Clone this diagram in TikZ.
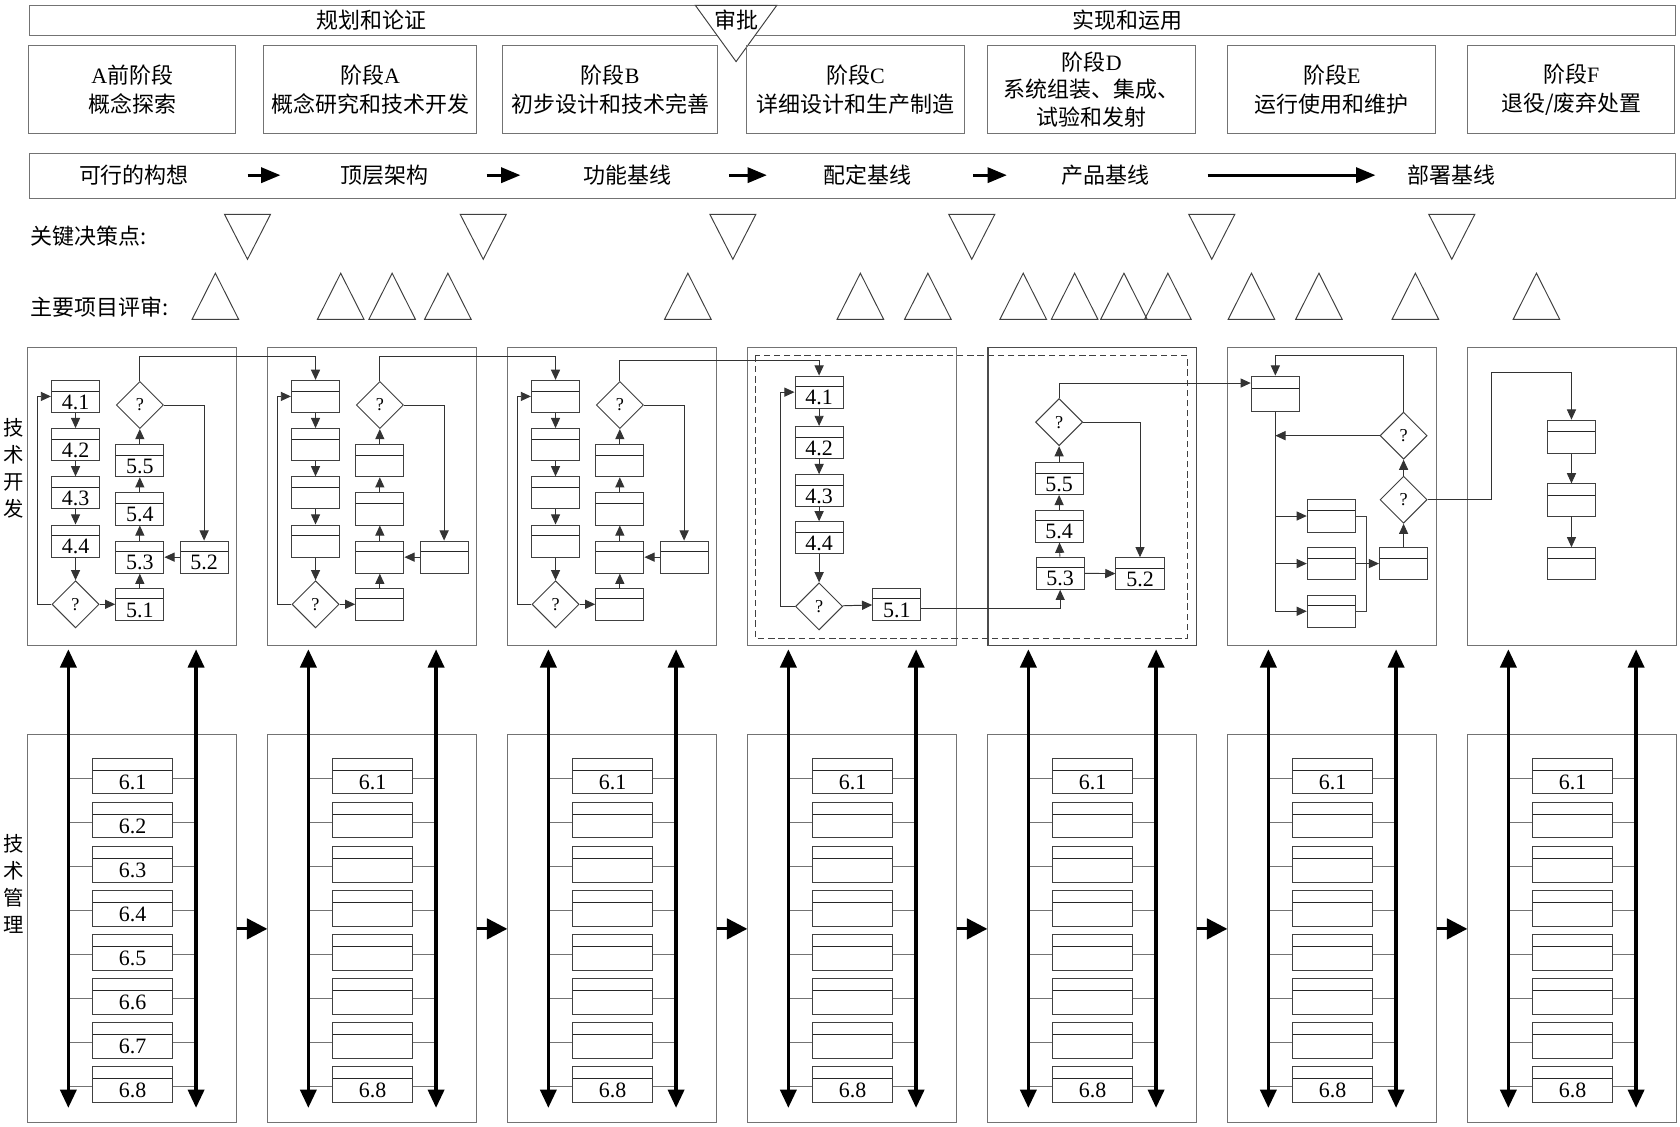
\documentclass[tikz,border=0pt]{standalone}
\usepackage{fontspec}
\setmainfont{Liberation Serif}
\newfontfamily\cjk{Noto Sans CJK SC}
\usepackage{tikz}
\usetikzlibrary{positioning, arrows.meta, calc, shapes.geometric}

\begin{document}
\begin{tikzpicture}[
  x=1pt, y=-1pt,
  >={Triangle[length=9.5pt, width=8.5pt]},
  every node/.style={font=\fontsize{20.5}{24}\selectfont},
  zh/.style={font=\cjk\fontsize{20.5}{27}\selectfont, align=center},
  frame/.style={draw=black!55, line width=0.9pt, inner sep=0pt},
  pbox/.style={draw=black!75, line width=0.9pt, fill=white, inner sep=0pt,
               minimum width=45pt, minimum height=30pt, text height=23.8pt, text depth=0pt,
               path picture={\draw[black!85, line width=0.9pt]
                 ([yshift=-#1]path picture bounding box.north west) --
                 ([yshift=-#1]path picture bounding box.north east);}},
  pbox/.default=10pt,
  mbox/.style={pbox=11pt, minimum width=75pt, minimum height=33pt, text height=24.8pt},
  qbox/.style={diamond, draw=black!75, line width=0.9pt, fill=white, inner sep=0pt,
               minimum width=44pt, minimum height=44pt, font=\fontsize{17}{20}\selectfont},
  arr/.style={->, line width=0.9pt, black!80},
  link/.style={line width=0.9pt, black!55},
  bigarr/.style={-{Triangle[length=18pt, width=14pt]}, line width=3pt},
  steparr/.style={-{Triangle[length=19pt, width=19pt]}, line width=3pt},
  dblarr/.style={{Triangle[length=17pt, width=15pt]}-{Triangle[length=17pt, width=15pt]}, line width=3.2pt},
  tri/.style={draw=black!75, line width=0.9pt}
]
\useasboundingbox (0,0) rectangle (1568,1051);

%--- Row 0: stages ---
\node[frame, anchor=north west, minimum width=1536pt, minimum height=28pt] (stagebar) at (27,5) {};
\node[zh] (plan) at (346.5,18.5) {规划和论证};
\node[zh] (realize) at (1052.5,18.5) {实现和运用};
\draw[tri, fill=white] (649,5) -- (725,5) -- (687,57.5) -- cycle;
\node[zh] (approve) at (687,19) {审批};

%--- Row 1: phases ---
\node[frame, zh, minimum width=193pt, minimum height=83pt] (phpre) at (123.5,83.5) {{\rmfamily A}前阶段\\概念探索};
\node[frame, zh, minimum width=199pt, minimum height=83pt] (pha) at (345.5,83.5) {阶段{\rmfamily A}\\概念研究和技术开发};
\node[frame, zh, minimum width=201pt, minimum height=83pt] (phb) at (569.5,83.5) {阶段{\rmfamily B}\\初步设计和技术完善};
\node[frame, zh, minimum width=203pt, minimum height=83pt] (phc) at (798.5,83.5) {阶段{\rmfamily C}\\详细设计和生产制造};
\node[frame, zh, minimum width=194pt, minimum height=83pt, font=\cjk\fontsize{20.5}{25.5}\selectfont] (phd) at (1019,83.5) {阶段{\rmfamily D}\\系统组装、集成、\\试验和发射};
\node[frame, zh, minimum width=194pt, minimum height=83pt] (phe) at (1243,83.5) {阶段{\rmfamily E}\\运行使用和维护};
\node[frame, zh, minimum width=193pt, minimum height=83pt] (phf) at (1466.5,83.5) {阶段{\rmfamily F}\\退役/废弃处置};

%--- Row 2: baselines ---
\node[frame, anchor=north west, minimum width=1536pt, minimum height=42pt] (basebar) at (27,143) {};
\node[zh, inner sep=0pt] (bl1) at (125,163.5) {可行的构想};
\node[zh, inner sep=0pt] (bl2) at (358.5,163.5) {顶层架构};
\node[zh, inner sep=0pt] (bl3) at (585.5,163.5) {功能基线};
\node[zh, inner sep=0pt] (bl4) at (810,163.5) {配定基线};
\node[zh, inner sep=0pt] (bl5) at (1032,163.5) {产品基线};
\node[zh, inner sep=0pt] (bl6) at (1355,163.5) {部署基线};
\draw[bigarr, shorten <=54.75pt, shorten >=55.5pt] (bl1.east) -- (bl2.west);
\draw[bigarr, shorten <=54.5pt, shorten >=58.5pt] (bl2.east) -- (bl3.west);
\draw[bigarr, shorten <=53.5pt, shorten >=53pt] (bl3.east) -- (bl4.west);
\draw[bigarr, shorten <=57pt, shorten >=51pt] (bl4.east) -- (bl5.west);
\draw[bigarr, shorten <=54pt, shorten >=30pt] (bl5.east) -- (bl6.west);

%--- Row 3: decision points and reviews ---
\node[zh, anchor=west, inner sep=0pt] (kdp) at (28,220) {关键决策点:};
\node[zh, anchor=west, inner sep=0pt] (review) at (28,287) {主要项目评审:};
\foreach \x in {231,451,684,907,1131,1355}
  \draw[tri] (\x-21.5,200) -- (\x+21.5,200) -- (\x,242) -- cycle;
\foreach \x in {201,318,366,418,642,803,866,955,1003,1049,1090,1168,1231,1321,1434}
  \draw[tri] (\x-21.7,298) -- (\x+21.7,298) -- (\x,255) -- cycle;

%--- Side labels ---
\node[font=\cjk\fontsize{19}{25.3}\selectfont, align=center] (devlabel) at (12.5,437) {技\\术\\开\\发};
\node[font=\cjk\fontsize{19}{25.3}\selectfont, align=center] (mgtlabel) at (12.5,825) {技\\术\\管\\理};

%--- Technical development: pre-A, A, B ---
\foreach \col/\x/\lab in {p/25.5/1, a/249.5/0, b/473.5/0}{
  \node[frame, anchor=north west, minimum width=194.5pt, minimum height=278pt] (dev\col) at (\x,324) {};
  \node[pbox] (b41\col) at (\x+45,370) {\ifnum\lab=1 4.1\fi};
  \node[pbox] (b42\col) at (\x+45,415) {\ifnum\lab=1 4.2\fi};
  \node[pbox] (b43\col) at (\x+45,460) {\ifnum\lab=1 4.3\fi};
  \node[pbox] (b44\col) at (\x+45,505) {\ifnum\lab=1 4.4\fi};
  \node[qbox] (q1\col) at (\x+45,564) {?};
  \node[qbox] (q2\col) at (\x+105,378) {?};
  \node[pbox] (b55\col) at (\x+105,430) {\ifnum\lab=1 5.5\fi};
  \node[pbox] (b54\col) at (\x+105,475) {\ifnum\lab=1 5.4\fi};
  \node[pbox] (b53\col) at (\x+105,520) {\ifnum\lab=1 5.3\fi};
  \node[pbox] (b51\col) at (\x+105,564) {\ifnum\lab=1 5.1\fi};
  \node[pbox] (b52\col) at (\x+165,520) {\ifnum\lab=1 5.2\fi};
  \draw[arr] (b41\col) -- (b42\col);
  \draw[arr] (b42\col) -- (b43\col);
  \draw[arr] (b43\col) -- (b44\col);
  \draw[arr] (b44\col) -- (q1\col);
  \draw[arr] (q1\col.west) -- ++(-13,0) |- (b41\col.west);
  \draw[arr] (q1\col) -- (b51\col);
  \draw[arr] (b51\col) -- (b53\col);
  \draw[arr] (b53\col) -- (b54\col);
  \draw[arr] (b54\col) -- (b55\col);
  \draw[arr] (b55\col) -- (q2\col);
  \draw[arr] (b52\col) -- (b53\col);
  \draw[arr] (q2\col.east) -| (b52\col.north);
}

%--- Technical development: C and D (dashed group) ---
\node[frame, anchor=north west, minimum width=194.5pt, minimum height=278pt] (devc) at (697.5,324) {};
\node[frame, anchor=north west, minimum width=194.5pt, minimum height=278pt, draw=black!70, line width=1.1pt] (devd) at (921.5,324) {};
\draw[black!75, line width=0.9pt, dash pattern=on 6pt off 3.5pt] (705,332) rectangle (1108.5,595.6);

\node[pbox] (c41) at (764.5,366) {4.1};
\node[pbox] (c42) at (764.5,413) {4.2};
\node[pbox] (c43) at (764.5,458) {4.3};
\node[pbox] (c44) at (764.5,502) {4.4};
\node[qbox] (cq) at (764.5,566) {?};
\node[pbox] (c51) at (837,564) {5.1};
\draw[arr] (c41) -- (c42);
\draw[arr] (c42) -- (c43);
\draw[arr] (c43) -- (c44);
\draw[arr] (c44) -- (cq);
\draw[arr] (cq.west) -- ++(-14,0) |- (c41.west);
\draw[arr] (cq) -- (c51);

\node[qbox] (dq) at (988.5,394) {?};
\node[pbox] (d55) at (988.5,446.5) {5.5};
\node[pbox] (d54) at (988.5,491) {5.4};
\node[pbox] (d53) at (989.5,535) {5.3};
\node[pbox] (d52) at (1064,535.5) {5.2};
\draw[arr] (d53) -- (d54);
\draw[arr] (d54) -- (d55);
\draw[arr] (d55) -- (dq);
\draw[arr] (d53) -- (d52);
\draw[arr] (dq.east) -| (d52.north);
\draw[arr] ([yshift=-4pt]c51.east) -| (d53.south);

%--- Technical development: E ---
\node[frame, anchor=north west, minimum width=194.5pt, minimum height=278pt] (deve) at (1145.5,324) {};
\node[pbox=12pt, minimum height=33pt] (e1) at (1190.3,367.5) {};
\node[qbox] (eq1) at (1310,406.6) {?};
\node[qbox] (eq2) at (1310,466.4) {?};
\node[pbox] (e2) at (1242.6,481.6) {};
\node[pbox] (e3) at (1242.6,526) {};
\node[pbox] (e4) at (1242.6,570.5) {};
\node[pbox] (ec) at (1310,526) {};
\draw[arr] (e1.south) |- (e4.west);
\draw[arr] (e1.south |- e2.west) -- (e2.west);
\draw[arr] (e1.south |- e3.west) -- (e3.west);
\draw[arr] (eq1.west) -- (eq1.west -| e1.south);
\draw[arr] (eq1.north) -- ++(0,-52) -| (e1.north);
\draw[link, black!75] (e2.east) -- ++(10,0) |- (e4.east);
\draw[arr] (e3) -- (ec);
\draw[arr] (ec) -- (eq2);
\draw[arr] (eq2) -- (eq1);

%--- Technical development: F ---
\node[frame, anchor=north west, minimum width=194.5pt, minimum height=278pt] (devf) at (1369.5,324) {};
\node[pbox=10.5pt, minimum height=31pt] (f1) at (1466.7,407.6) {};
\node[pbox=10.5pt, minimum height=30pt] (f2) at (1466.7,466.6) {};
\node[pbox=10.5pt, minimum height=30pt] (f3) at (1466.7,526.2) {};
\draw[arr] (f1) -- (f2);
\draw[arr] (f2) -- (f3);

%--- Links between phases ---
\draw[arr] (q2p.north) -- ++(0,-23) -| (b41a.north);
\draw[arr] (q2a.north) -- ++(0,-23) -| (b41b.north);
\draw[arr] (q2b.north) -- ++(0,-19) -| (c41.north);
\draw[arr] (dq.north) |- ([yshift=10pt]e1.west);
\draw[arr] (eq2.east) -| ++(60,-119) -| (f1.north);

%--- Technical management ---
\foreach \i [evaluate=\i as \x using 25.5+224*\i] in {0,...,6}{
  \node[frame, anchor=north west, minimum width=194.5pt, minimum height=362pt] (mg\i) at (\x,685.5) {};
  \foreach \k [evaluate=\k as \y using 724.5+41.1*(\k-1)] in {1,...,8}{
    \node[mbox] (m\i\k) at (\x+98.2,\y) {\ifnum\i=0 6.\k\else\ifnum\k=1 6.1\fi\ifnum\k=8 6.8\fi\fi};
    \draw[link] ([yshift=-2pt]m\i\k.west) -- ++(-22.4,0);
    \draw[link] ([yshift=-2pt]m\i\k.east) -- ++(21.8,0);
  }
  \draw[dblarr] (\x+38.3,606) -- (\x+38.3,1034);
  \draw[dblarr] (\x+157.5,606) -- (\x+157.5,1034);
}
\foreach \i [evaluate=\i as \j using int(\i+1)] in {0,...,5}
  \draw[steparr] (mg\i.east) -- (mg\j.west);

\end{tikzpicture}
\end{document}
